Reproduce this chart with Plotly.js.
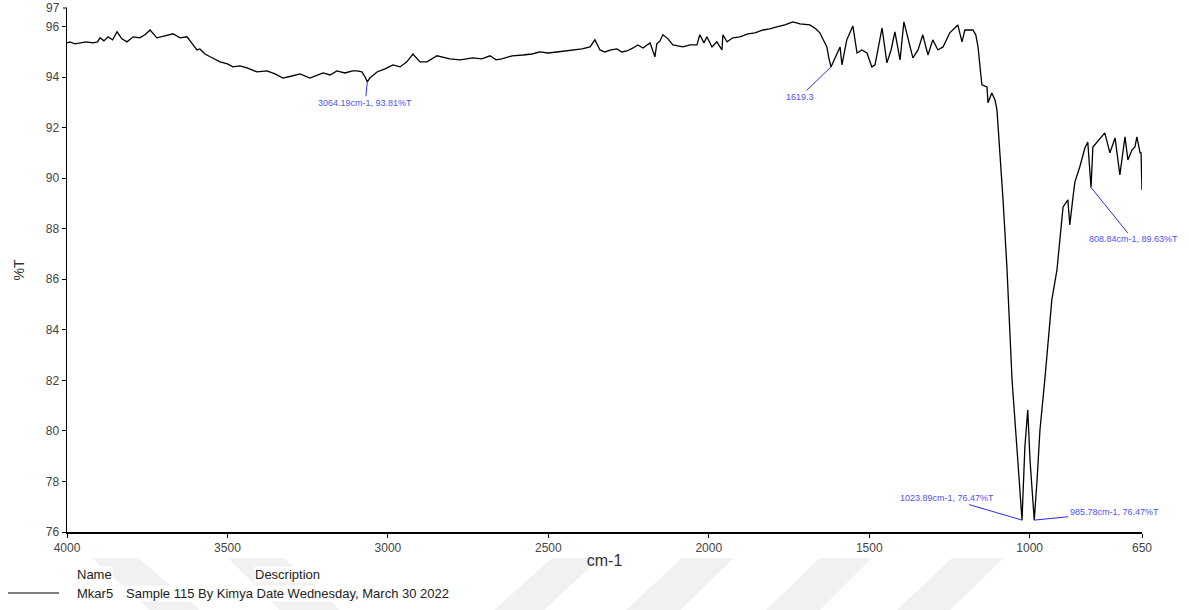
<!DOCTYPE html>
<html>
<head>
<meta charset="utf-8">
<script src="https://cdn.plot.ly/plotly-3.0.1.min.js"></script>
<style>html,body{margin:0;padding:0;background:#fff;}#chart{width:1189px;height:610px;}</style>
</head>
<body>
<div id="chart"></div>
<script>
// Wavenumber (cm-1)
const wavenumber = [
4000,3991,3975,3960,3940,3919,3905,3897,3885,3872,3858,3844,3829,3813,3794,3773,3757,3741,3730,3720,
3695,3670,3648,3626,3607,3595,3586,3570,3554,3523,3500,3483,3461,3439,3408,3377,3352,3327,3299,3274,
3243,3221,3202,3180,3159,3134,3110,3096,3081,3071,3064.19,3056,3034,3009,2984,2962,2941,2922,2900,2878,
2847,2807,2775,2735,2707,2682,2663,2645,2613,2579,2551,2526,2501,2473,2448,2423,2395,2370,2355,2339,
2324,2305,2286,2271,2255,2236,2221,2205,2183,2168,2162,2152,2143,2127,2112,2096,2081,2059,2037,2028,
2015,2006,1990,1975,1959,1956,1943,1925,1903,1878,1856,1831,1810,1788,1763,1738,1716,1685,1666,1654,
1641,1632,1626,1619.3,1591,1585,1570,1551,1538,1523,1507,1492,1482,1460,1445,1432,1420,1404,1392,1379,
1364,1348,1333,1317,1302,1286,1270,1249,1224,1211,1202,1177,1168,1161,1149,1133,1130,1118,1108,1102,
1093,1083,1071,1055,1040,1030,1023.89,1015,1006,999,990,985.78,977,968,953,931,915,896,881,875,
865,859,844,828,819,808.84,803,787,766,750,734,719,703,694,681,672,666,656,653,650
];
// Transmittance (%T)
const transmittance = [
95.35,95.39,95.31,95.35,95.39,95.35,95.39,95.55,95.43,95.59,95.47,95.79,95.51,95.39,95.59,95.55,95.67,95.86,95.71,95.55,
95.63,95.71,95.55,95.59,95.27,95.07,95.11,94.91,94.80,94.60,94.52,94.40,94.44,94.36,94.20,94.24,94.12,93.96,94.04,94.12,
93.96,94.08,94.16,94.08,94.24,94.16,94.24,94.24,94.20,94.00,93.81,93.96,94.20,94.32,94.48,94.40,94.60,94.91,94.60,94.60,
94.84,94.72,94.68,94.76,94.72,94.84,94.68,94.72,94.84,94.87,94.91,94.99,94.95,94.99,95.03,95.07,95.11,95.19,95.47,95.07,
94.99,95.07,95.11,94.99,95.03,95.15,95.27,95.15,95.35,94.80,95.31,95.43,95.67,95.51,95.27,95.23,95.19,95.27,95.27,95.67,
95.35,95.59,95.19,95.39,95.07,95.67,95.39,95.55,95.59,95.71,95.75,95.86,95.90,95.98,96.06,96.18,96.10,96.06,95.90,95.75,
95.43,95.19,94.76,94.40,95.19,94.48,95.47,96.02,94.95,95.07,94.95,94.40,94.48,95.94,94.56,95.07,95.79,94.68,96.18,95.47,
94.76,95.07,95.67,94.87,95.47,95.07,95.19,95.75,96.06,95.39,95.86,95.86,95.67,95.19,93.69,93.61,92.98,93.37,93.09,92.70,
91.12,89.14,86.49,82.01,79.36,77.66,76.47,79.36,80.83,78.85,76.99,76.47,78.06,80.04,82.01,85.18,86.37,88.86,89.14,88.15,
89.26,89.85,90.44,91.19,91.43,89.63,91.23,91.47,91.79,91.00,91.59,90.13,91.63,90.72,91.12,91.23,91.63,91.00,91.00,89.53
];
// Peak labels
const peakX = [3064.19, 1619.3, 1023.89, 985.78, 808.84];
const peakY = [93.81, 94.40, 76.47, 76.47, 89.63];
const peakText = ["3064.19cm-1, 93.81%T", "1619.3", "1023.89cm-1, 76.47%T", "985.78cm-1, 76.47%T", "808.84cm-1, 89.63%T"];
const peakAx = [-2, -31, -75, 80, 42];
const peakAy = [21, 30, -22, -8, 52];
const xTicks = [4000, 3500, 3000, 2500, 2000, 1500, 1000, 650];
const yTicks = [76, 78, 80, 82, 84, 86, 88, 90, 92, 94, 96];

const trace = {
  x: wavenumber, y: transmittance, type: 'scatter', mode: 'lines',
  line: {color: '#000', width: 1.3}, hoverinfo: 'skip', showlegend: false
};

const W = 1075, H = 524;
const px = v => (v - 67) / W;
const py = v => (532 - v) / H;

const annotations = peakX.map((x, i) => ({
  x: x, y: peakY[i], xref: 'x', yref: 'y', text: peakText[i],
  showarrow: true, arrowhead: 0, arrowwidth: 1, arrowcolor: '#2b2bff',
  ax: peakAx[i], ay: peakAy[i],
  font: {family: 'Liberation Sans, Arial, sans-serif', size: 9, color: '#5050ff'}
}));
const lbl = {family: 'Liberation Sans, Arial, sans-serif', size: 13, color: '#222'};
annotations.push(
  {xref: 'paper', yref: 'paper', x: 0, y: 1, xanchor: 'right', yanchor: 'middle', xshift: -5, text: '97', showarrow: false, font: {family: 'Liberation Sans, Arial, sans-serif', size: 12, color: '#444'}},
  {xref: 'paper', yref: 'paper', x: px(76), y: py(574), xanchor: 'left', yanchor: 'middle', text: 'Name', showarrow: false, bgcolor: '#fff', borderpad: 0, font: lbl},
  {xref: 'paper', yref: 'paper', x: px(254), y: py(574), xanchor: 'left', yanchor: 'middle', text: 'Description', showarrow: false, bgcolor: '#fff', borderpad: 0, font: lbl},
  {xref: 'paper', yref: 'paper', x: px(76), y: py(593), xanchor: 'left', yanchor: 'middle', text: 'Mkar5', showarrow: false, bgcolor: '#fff', borderpad: 0, font: lbl},
  {xref: 'paper', yref: 'paper', x: px(125), y: py(593), xanchor: 'left', yanchor: 'middle', text: 'Sample 115 By Kimya Date Wednesday, March 30 2022', showarrow: false, bgcolor: '#fff', borderpad: 0, font: lbl}
);

// faint background watermark bands
const wm = [
  [[92,558],[138,558],[200,610],[150,610]],
  [[228,558],[284,558],[340,610],[280,610]],
  [[552,558],[600,558],[544,610],[494,610]],
  [[682,558],[734,558],[680,610],[626,610]],
  [[820,558],[872,558],[820,610],[766,610]],
  [[952,558],[1004,558],[950,610],[897,610]]
];
const shapes = wm.map(p => ({
  type: 'path', xref: 'paper', yref: 'paper', layer: 'below',
  path: 'M' + p.map(q => px(q[0]).toFixed(5) + ',' + py(q[1]).toFixed(5)).join(' L') + ' Z',
  fillcolor: '#f1f1f1', line: {width: 0}
}));
shapes.push(
  {type: 'line', xref: 'paper', yref: 'paper', x0: px(8), x1: px(59), y0: py(593), y1: py(593), line: {color: '#000', width: 1}},
  {type: 'line', xref: 'paper', yref: 'paper', x0: px(63), x1: 0, y0: 1, y1: 1, line: {color: '#000', width: 1}}
);

const layout = {
  width: 1189, height: 610,
  margin: {l: 67, r: 47, t: 8, b: 78},
  paper_bgcolor: '#fff', plot_bgcolor: 'rgba(0,0,0,0)',
  showlegend: false,
  xaxis: {
    range: [4000, 650], tickvals: xTicks, ticktext: xTicks.map(String),
    ticks: 'outside', ticklen: 4, tickcolor: '#000', showgrid: false, zeroline: false,
    showline: true, linecolor: '#000', linewidth: 1.5,
    tickfont: {family: 'Liberation Sans, Arial, sans-serif', size: 12, color: '#444'},
    title: {text: 'cm-1', standoff: 1, font: {family: 'Liberation Sans, Arial, sans-serif', size: 16, color: '#333'}}
  },
  yaxis: {
    range: [76, 96.73], tickvals: yTicks, ticktext: yTicks.map(String),
    ticks: 'outside', ticklen: 4, tickcolor: '#000', showgrid: false, zeroline: false,
    showline: true, linecolor: '#000', linewidth: 1.5,
    tickfont: {family: 'Liberation Sans, Arial, sans-serif', size: 12, color: '#444'},
    title: {text: '%T', standoff: 18, font: {family: 'Liberation Sans, Arial, sans-serif', size: 14, color: '#333'}}
  },
  shapes: shapes,
  annotations: annotations
};

Plotly.newPlot('chart', [trace], layout, {displayModeBar: false, staticPlot: true});
</script>
</body>
</html>
